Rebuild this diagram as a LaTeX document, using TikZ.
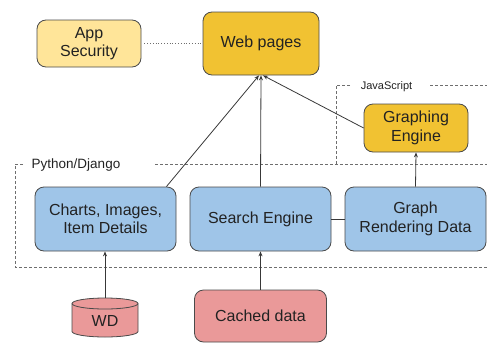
\documentclass[tikz,border=0pt]{standalone}
\usepackage{fontspec}
\setmainfont{Liberation Sans}
\usetikzlibrary{arrows.meta}
\definecolor{paleyellow}{HTML}{FFE599}
\definecolor{gold}{HTML}{F1C232}
\definecolor{skyblue}{HTML}{9FC5E8}
\definecolor{rose}{HTML}{EA9999}
\definecolor{edge}{HTML}{4A4A4A}
\definecolor{ink}{HTML}{222222}
\definecolor{zone}{HTML}{6E6E6E}
\tikzset{
  box/.style={draw=edge, line width=0.8pt, rounded corners=9pt, align=center,
    text=ink, font=\fontsize{16}{18.5}\selectfont, inner sep=0pt},
  feed/.style={draw=ink!90, line width=0.8pt, -{Stealth[length=5pt,width=4pt]}},
  zoneline/.style={draw=zone, line width=0.8pt, dash pattern=on 3pt off 2pt},
  zonelabel/.style={text=ink, inner sep=0pt, anchor=base},
}
\begin{document}
\begin{tikzpicture}[x=1pt,y=-1pt]
\useasboundingbox (0,0) rectangle (487,343);

% dashed zones
\draw[zoneline] (23,164) -- (15,164) -- (15,267) -- (490,267);
\draw[zoneline] (155,164) -- (490,164);
\draw[zoneline] (350,85) -- (336,85) -- (336,164);
\draw[zoneline] (430,85) -- (490,85);
\node[zonelabel, font=\fontsize{13.5}{15}\selectfont] (pylabel) at (76,168) {Python/Django};
\node[zonelabel, font=\fontsize{11}{13}\selectfont] (jslabel) at (386.5,89) {JavaScript};

% boxes
\node[box, fill=paleyellow, minimum width=104pt, minimum height=47pt] (appsec) at (89,43.5) {App\\Security};
\node[box, fill=gold, minimum width=116pt, minimum height=63pt] (web) at (261,43.5) {Web pages};
\node[box, fill=gold, minimum width=104pt, minimum height=48pt] (graphing) at (416,128) {Graphing\\Engine};
\node[box, fill=skyblue, minimum width=141pt, minimum height=64pt] (charts) at (105.5,219) {Charts, Images,\\Item Details};
\node[box, fill=skyblue, minimum width=141pt, minimum height=64pt] (search) at (260.5,219) {Search Engine};
\node[box, fill=skyblue, minimum width=141pt, minimum height=64pt] (grd) at (415.5,219) {Graph\\Rendering Data};
\node[box, fill=rose, minimum width=132pt, minimum height=52pt] (cached) at (260.5,316) {Cached data};

% WD cylinder
\filldraw[fill=rose, draw=edge, line width=0.8pt]
  (72,303.5) -- (72,331.5) arc[start angle=180, end angle=360, x radius=33pt, y radius=5.5pt]
  -- (138,303.5) arc[start angle=0, end angle=180, x radius=33pt, y radius=5.5pt] -- cycle;
\draw[draw=edge, line width=0.8pt] (72,303.5) arc[start angle=180, end angle=360, x radius=33pt, y radius=5.5pt];
\node[text=ink, font=\fontsize{16}{18.5}\selectfont, inner sep=0pt] (wd) at (105,321) {WD};
\coordinate (wdtop) at (105,298);

% connectors
\draw[draw=zone, line width=0.8pt, dotted] (appsec.east) ++(3,0) -- (web.west);
\draw[feed] (charts.north east) ++(-10,0) -- ([xshift=-2pt]web.south);
\draw[feed] (search.north) -- (web.south);
\draw[feed] (graphing.west) -- ([xshift=2pt]web.south);
\draw[feed] (grd.north) -- (graphing.south);
\draw[feed] (wdtop) -- (charts.south -| wdtop);
\draw[feed] (cached.north) -- (search.south);
\draw[draw=ink!90, line width=0.8pt] (search.east) -- (grd.west);
\end{tikzpicture}
\end{document}
